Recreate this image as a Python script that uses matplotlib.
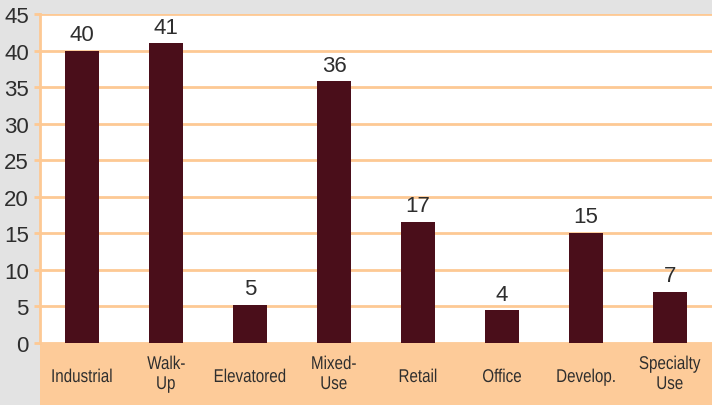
import matplotlib
matplotlib.use("Agg")
import matplotlib.pyplot as plt
from matplotlib.patches import Rectangle, PathPatch
from matplotlib.textpath import TextPath
from matplotlib.font_manager import FontProperties
from matplotlib.transforms import Affine2D, IdentityTransform

# данные
categories = ["Industrial", "Walk-\nUp", "Elevatored", "Mixed-\nUse",
              "Retail", "Office", "Develop.", "Specialty\nUse"]
values = [40.0, 41.0, 5.2, 35.8, 16.6, 4.5, 15.1, 7.0]
value_labels = ["40", "41", "5", "36", "17", "4", "15", "7"]
yticks = [0, 5, 10, 15, 20, 25, 30, 35, 40, 45]

# цвета
bar_color = "#4A0E1A"
grid_color = "#FDC994"
band_color = "#FDCB99"
side_color = "#E3E3E3"
text_color = "#2E2E2E"

plt.rcParams["font.family"] = ["Liberation Sans", "DejaVu Sans"]

W, H = 712, 406
fig = plt.figure(figsize=(W / 100, H / 100), dpi=100)
fig.patch.set_facecolor(side_color)

left, right, top, bottom = 40, 712, 15, 344
ax = fig.add_axes([left / W, 1 - bottom / H, (right - left) / W, (bottom - top) / H])
ax.set_facecolor("white")

# персиковая полоса под осью
fig.patches.append(Rectangle((left / W, 0), (right - left) / W, 1 - bottom / H,
                             transform=fig.transFigure, facecolor=band_color,
                             edgecolor="none", zorder=-1))

x = range(len(categories))
bars = ax.bar(x, values, width=0.41, color=bar_color, zorder=3)

for b, lab in zip(bars, value_labels):
    ax.annotate(lab, (b.get_x() + b.get_width() / 2, b.get_height()),
                xytext=(0, 4), textcoords="offset points",
                ha="center", va="bottom", fontsize=16, color=text_color)

ax.set_xlim(-0.5, len(categories) - 0.5)
ax.set_ylim(0, 45)
ax.set_yticks(yticks)
ax.yaxis.grid(True, color=grid_color, linewidth=2, zorder=1)
ax.set_axisbelow(True)

for s in ["top", "right", "bottom"]:
    ax.spines[s].set_visible(False)
ax.spines["left"].set_color(grid_color)
ax.spines["left"].set_linewidth(2)

ax.tick_params(axis="y", colors=grid_color, length=4, width=2, pad=4,
               labelsize=16, labelcolor=text_color)
ax.set_xticks([])

# подписи категорий: узкий шрифт (сжатие по x), в пикселях
fp = FontProperties(family="Liberation Sans")
fs = 18.5      # px
squeeze = 0.82
y_single = H - 383
y_double = [H - 370, H - 390]
for i, c in enumerate(categories):
    cx = ax.transData.transform((i, 0))[0]
    lines = c.split("\n")
    ys = [y_single] if len(lines) == 1 else y_double
    for line, yb in zip(lines, ys):
        tp = TextPath((0, 0), line, size=fs, prop=fp)
        ext = tp.get_extents()
        w = (ext.x0 + ext.x1) * squeeze
        tr = Affine2D().scale(squeeze, 1).translate(cx - w / 2, yb)
        fig.patches.append(PathPatch(tr.transform_path(tp), transform=IdentityTransform(),
                                     facecolor=text_color, edgecolor="none", lw=0))

fig.savefig("out.png", dpi=100, facecolor=fig.get_facecolor())
